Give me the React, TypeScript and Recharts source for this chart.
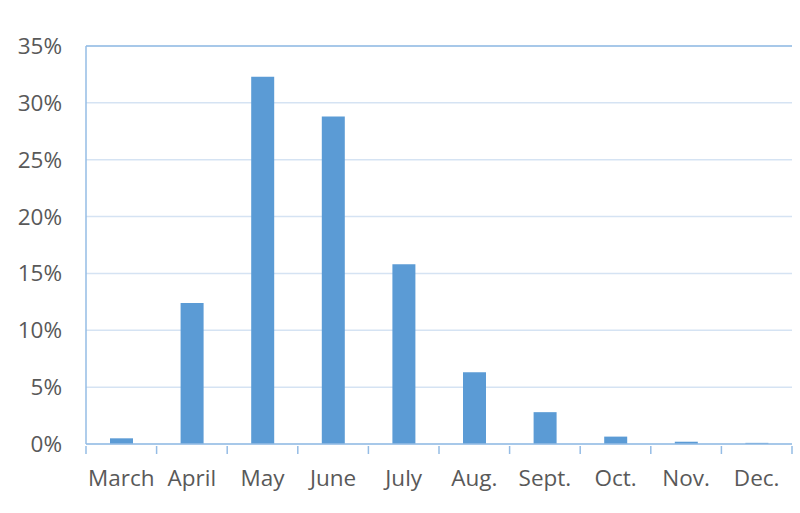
import { BarChart, Bar, CartesianGrid, XAxis, YAxis, ReferenceLine } from "recharts";

const months = ["March", "April", "May", "June", "July", "Aug.", "Sept.", "Oct.", "Nov.", "Dec."];
const shares = [0.5, 12.4, 32.3, 28.8, 15.8, 6.3, 2.8, 0.65, 0.2, 0.1];
const yTicks = [0, 5, 10, 15, 20, 25, 30, 35];

const data = months.map((m, i) => ({ month: m, share: shares[i] }));

const AXIS = "#95BCE5";
const GRID = "#D5E3F3";
const TEXT = "#595959";
const FONT = "'Open Sans', sans-serif";
const BAND = 70.6;

function MonthTick(props: any) {
  const { x, y, payload, index, visibleTicksCount } = props;
  const left = x - BAND / 2;
  const right = x + BAND / 2;
  return (
    <g>
      <line x1={left} y1={y} x2={left} y2={y + 8} stroke={AXIS} strokeWidth={1.5} />
      {index === visibleTicksCount - 1 && (
        <line x1={right} y1={y} x2={right} y2={y + 8} stroke={AXIS} strokeWidth={1.5} />
      )}
      <text x={x} y={y + 40} textAnchor="middle" fill={TEXT} fontSize={22.5} fontFamily={FONT}>
        {payload.value}
      </text>
    </g>
  );
}

function PctTick(props: any) {
  const { x, y, payload } = props;
  return (
    <text x={x} y={y + 8} textAnchor="end" fill={TEXT} fontSize={22.5} fontFamily={FONT}>
      {payload.value + "%"}
    </text>
  );
}

export default function App() {
  return (
    <div style={{ position: "absolute", left: 0, top: 0 }}>
      <BarChart
        width={800}
        height={513}
        data={data}
        margin={{ top: 46, right: 8, bottom: 0, left: 0 }}
      >
        <CartesianGrid vertical={false} stroke={GRID} strokeWidth={1.5} />
        <XAxis
          dataKey="month"
          height={69}
          tickLine={false}
          tickSize={0}
          axisLine={{ stroke: AXIS, strokeWidth: 1.5 }}
          tick={<MonthTick />}
          interval={0}
        />
        <YAxis
          width={86}
          domain={[0, 35]}
          ticks={yTicks}
          tickLine={false}
          tickSize={0}
          tickMargin={24}
          axisLine={{ stroke: AXIS, strokeWidth: 1.5 }}
          tick={<PctTick />}
        />
        <YAxis
          yAxisId="right"
          orientation="right"
          width={0}
          tick={false}
          tickLine={false}
          axisLine={{ stroke: AXIS, strokeWidth: 1.5 }}
        />
        <ReferenceLine y={35} stroke={AXIS} strokeWidth={1.5} />
        <Bar dataKey="share" fill="#5B9BD5" barSize={23} isAnimationActive={false} />
      </BarChart>
    </div>
  );
}
